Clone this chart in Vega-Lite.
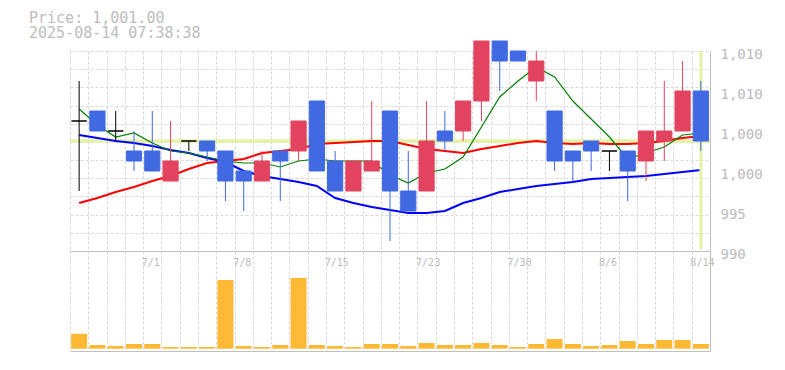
{
  "$schema": "https://vega.github.io/schema/vega-lite/v6.json",
  "autosize": {"type": "pad"},
  "padding": {"left": 29, "top": 10, "right": 21, "bottom": 20},
  "bounds": "flush",
  "spacing": 0,
  "config": {
    "view": {"stroke": null},
    "font": "DejaVu Sans Mono",
    "axis": {
      "gridColor": "#d9d9d9", "gridDash": [3, 2], "gridWidth": 1,
      "domainColor": "#c0c0c0", "domainWidth": 1,
      "labelColor": "#bbbbbb", "labelFont": "DejaVu Sans Mono",
      "ticks": false, "tickSize": 0, "title": null
    }
  },
  "title": {
    "text": ["Price: 1,001.00", "2025-08-14 07:38:38"],
    "anchor": "start", "frame": "group",
    "font": "DejaVu Sans Mono", "fontSize": 15, "fontWeight": "normal",
    "color": "#bdbdbd", "lineHeight": 15, "dx": -41, "offset": 0
  },
  "datasets": {
    "px": [
      {"date":"6/25","open":1003,"high":1007,"low":996,"close":1003,"dir":"flat","ma5":1004.2,"ma25":994.8,"ma75":1001.6,"volume":1500},
      {"date":"6/26","open":1004,"high":1004,"low":1002,"close":1002,"dir":"down","ma5":1002.6,"ma25":995.3,"ma75":1001.3,"volume":370},
      {"date":"6/27","open":1002,"high":1004,"low":1001,"close":1002,"dir":"flat","ma5":1001.4,"ma25":995.9,"ma75":1001.0,"volume":270},
      {"date":"6/30","open":1000,"high":1002,"low":998,"close":999,"dir":"down","ma5":1001.8,"ma25":996.4,"ma75":1000.8,"volume":470},
      {"date":"7/1","open":1000,"high":1004,"low":998,"close":998,"dir":"down","ma5":1000.8,"ma25":997.0,"ma75":1000.5,"volume":470},
      {"date":"7/2","open":997,"high":1003,"low":997,"close":999,"dir":"up","ma5":1000.0,"ma25":997.5,"ma75":1000.1,"volume":170},
      {"date":"7/3","open":1001,"high":1001,"low":1000,"close":1001,"dir":"flat","ma5":999.8,"ma25":998.2,"ma75":999.8,"volume":170},
      {"date":"7/4","open":1001,"high":1001,"low":999,"close":1000,"dir":"down","ma5":999.4,"ma25":998.8,"ma75":999.3,"volume":170},
      {"date":"7/7","open":1000,"high":1000,"low":995,"close":997,"dir":"down","ma5":999.0,"ma25":999.0,"ma75":998.9,"volume":6870},
      {"date":"7/8","open":998,"high":998,"low":994,"close":997,"dir":"down","ma5":998.8,"ma25":999.2,"ma75":998.0,"volume":270},
      {"date":"7/9","open":997,"high":1000,"low":997,"close":999,"dir":"up","ma5":998.8,"ma25":999.8,"ma75":997.5,"volume":170},
      {"date":"7/10","open":1000,"high":1000,"low":995,"close":999,"dir":"down","ma5":998.4,"ma25":1000.0,"ma75":997.2,"volume":370},
      {"date":"7/11","open":1000,"high":1003,"low":999,"close":1003,"dir":"up","ma5":999.0,"ma25":1000.2,"ma75":996.9,"volume":7070},
      {"date":"7/14","open":1005,"high":1005,"low":998,"close":998,"dir":"down","ma5":999.2,"ma25":1000.7,"ma75":996.5,"volume":370},
      {"date":"7/15","open":999,"high":1000,"low":996,"close":996,"dir":"down","ma5":999.0,"ma25":1000.8,"ma75":995.3,"volume":270},
      {"date":"7/16","open":996,"high":999,"low":996,"close":999,"dir":"up","ma5":999.0,"ma25":1000.9,"ma75":994.8,"volume":170},
      {"date":"7/17","open":998,"high":1005,"low":998,"close":999,"dir":"up","ma5":999.0,"ma25":1001.0,"ma75":994.4,"volume":470},
      {"date":"7/18","open":1004,"high":1004,"low":991,"close":996,"dir":"down","ma5":997.6,"ma25":1001.0,"ma75":994.1,"volume":470},
      {"date":"7/22","open":996,"high":1000,"low":994,"close":994,"dir":"down","ma5":996.8,"ma25":1000.6,"ma75":993.8,"volume":270},
      {"date":"7/23","open":996,"high":1005,"low":996,"close":1001,"dir":"up","ma5":997.8,"ma25":1000.2,"ma75":993.8,"volume":570},
      {"date":"7/24","open":1002,"high":1004,"low":1000,"close":1001,"dir":"down","ma5":998.2,"ma25":1000.0,"ma75":994.0,"volume":370},
      {"date":"7/25","open":1002,"high":1005,"low":1001,"close":1005,"dir":"up","ma5":999.4,"ma25":999.8,"ma75":994.8,"volume":370},
      {"date":"7/28","open":1005,"high":1011,"low":1003,"close":1011,"dir":"up","ma5":1002.4,"ma25":1000.2,"ma75":995.3,"volume":570},
      {"date":"7/29","open":1011,"high":1011,"low":1006,"close":1009,"dir":"down","ma5":1005.4,"ma25":1000.5,"ma75":995.9,"volume":370},
      {"date":"7/30","open":1010,"high":1010,"low":1009,"close":1009,"dir":"down","ma5":1007.0,"ma25":1000.8,"ma75":996.2,"volume":170},
      {"date":"7/31","open":1007,"high":1010,"low":1005,"close":1009,"dir":"up","ma5":1008.4,"ma25":1001.0,"ma75":996.5,"volume":470},
      {"date":"8/1","open":1004,"high":1004,"low":998,"close":999,"dir":"down","ma5":1007.4,"ma25":1000.8,"ma75":996.7,"volume":970},
      {"date":"8/4","open":1000,"high":1000,"low":997,"close":999,"dir":"down","ma5":1005.0,"ma25":1000.7,"ma75":996.9,"volume":470},
      {"date":"8/5","open":1001,"high":1001,"low":998,"close":1000,"dir":"down","ma5":1003.2,"ma25":1000.8,"ma75":997.2,"volume":270},
      {"date":"8/6","open":1000,"high":1000,"low":998,"close":1000,"dir":"flat","ma5":1001.4,"ma25":1000.7,"ma75":997.3,"volume":370},
      {"date":"8/7","open":1000,"high":1000,"low":995,"close":998,"dir":"down","ma5":999.2,"ma25":1000.7,"ma75":997.4,"volume":770},
      {"date":"8/8","open":999,"high":1002,"low":997,"close":1002,"dir":"up","ma5":999.8,"ma25":1000.8,"ma75":997.5,"volume":470},
      {"date":"8/12","open":1001,"high":1007,"low":999,"close":1002,"dir":"up","ma5":1000.4,"ma25":1001.0,"ma75":997.7,"volume":870},
      {"date":"8/13","open":1002,"high":1009,"low":1002,"close":1006,"dir":"up","ma5":1001.6,"ma25":1001.3,"ma75":997.9,"volume":870},
      {"date":"8/14","open":1006,"high":1007,"low":1000,"close":1001,"dir":"down","ma5":1001.8,"ma25":1001.5,"ma75":998.1,"volume":470}
    ]
  },
  "vconcat": [
    {
      "width": 640,
      "height": 200,
      "resolve": {"axis": {"y": "independent"}},
      "layer": [
        {
          "data": {"values": [{"price": 1001}]},
          "mark": {"type": "rule", "color": "#e4f2a6", "strokeWidth": 3.5},
          "encoding": {
            "y": {
              "field": "price", "type": "quantitative",
              "scale": {"domain": [990, 1010], "zero": false, "nice": false},
              "axis": {"orient": "left", "labels": false, "domain": false, "grid": true, "ticks": false,
                "values": [991.818, 993.636, 995.455, 997.273, 999.091, 1000.909, 1002.727, 1004.545, 1006.364, 1008.182, 1010]}
            }
          }
        },
        {
          "data": {"name": "px"},
          "mark": {"type": "line", "color": "#0000ff", "strokeWidth": 2},
          "encoding": {
            "x": {
              "field": "date", "type": "ordinal", "sort": null,
              "scale": {"domain": ["6/25","6/26","6/27","6/30","7/1","7/2","7/3","7/4","7/7","7/8","7/9","7/10","7/11","7/14","7/15","7/16","7/17","7/18","7/22","7/23","7/24","7/25","7/28","7/29","7/30","7/31","8/1","8/4","8/5","8/6","8/7","8/8","8/12","8/13","8/14"], "paddingInner": 0, "paddingOuter": 0},
              "axis": {"orient": "bottom", "labels": false, "ticks": false, "grid": true, "tickBand": "extent", "domain": true}
            },
            "y": {"field": "ma75", "type": "quantitative", "axis": null}
          }
        },
        {
          "data": {"values": [{"date": "8/14", "top": 1010, "bottom": 990.2}]},
          "mark": {"type": "rule", "color": "#e4f2a6", "strokeWidth": 3},
          "encoding": {
            "x": {"field": "date", "type": "ordinal"},
            "y": {"field": "top", "type": "quantitative", "axis": null},
            "y2": {"field": "bottom"}
          }
        },
        {
          "data": {"name": "px"},
          "mark": {"type": "line", "color": "#ff0000", "strokeWidth": 2},
          "encoding": {
            "x": {"field": "date", "type": "ordinal"},
            "y": {"field": "ma25", "type": "quantitative", "axis": null}
          }
        },
        {
          "data": {"name": "px"},
          "mark": {"type": "line", "color": "#008000", "strokeWidth": 1.2},
          "encoding": {
            "x": {"field": "date", "type": "ordinal"},
            "y": {"field": "ma5", "type": "quantitative", "axis": null}
          }
        },
        {
          "data": {"name": "px"},
          "mark": {"type": "rule", "strokeWidth": 1},
          "encoding": {
            "x": {"field": "date", "type": "ordinal"},
            "y": {"field": "low", "type": "quantitative", "axis": null},
            "y2": {"field": "high"},
            "color": {"field": "dir", "type": "nominal", "scale": {"domain": ["up", "down", "flat"], "range": ["#e2445f", "#4169e1", "#000000"]}, "legend": null}
          }
        },
        {
          "data": {"name": "px"},
          "mark": {"type": "bar", "width": {"band": 0.83}, "strokeWidth": 1},
          "encoding": {
            "x": {"field": "date", "type": "ordinal"},
            "y": {
              "field": "open", "type": "quantitative",
              "axis": {"orient": "right", "values": [990, 994, 998, 1002, 1006, 1010],
                "labelExpr": "datum.value >= 1005 ? '1,010' : datum.value >= 997 ? '1,000' : datum.value >= 993 ? '995' : '990'",
                "grid": false, "domain": true, "ticks": false, "labelOffset": 3, "labelPadding": 10,
                "labelFontSize": 14, "labelFlush": false, "labelOverlap": false, "labelBaseline": "middle"}
            },
            "y2": {"field": "close"},
            "color": {"field": "dir", "type": "nominal", "scale": {"domain": ["up", "down", "flat"], "range": ["#e2445f", "#4169e1", "#000000"]}, "legend": null},
            "stroke": {"field": "dir", "type": "nominal", "scale": {"domain": ["up", "down", "flat"], "range": ["#e2445f", "#4169e1", "#000000"]}, "legend": null}
          }
        }
      ]
    },
    {
      "width": 640,
      "height": 100,
      "data": {"name": "px"},
      "mark": {"type": "bar", "color": "#fdb933", "width": {"band": 0.875}},
      "encoding": {
        "x": {
          "field": "date", "type": "ordinal", "sort": null,
          "scale": {"domain": ["6/25","6/26","6/27","6/30","7/1","7/2","7/3","7/4","7/7","7/8","7/9","7/10","7/11","7/14","7/15","7/16","7/17","7/18","7/22","7/23","7/24","7/25","7/28","7/29","7/30","7/31","8/1","8/4","8/5","8/6","8/7","8/8","8/12","8/13","8/14"], "paddingInner": 0, "paddingOuter": 0},
          "axis": {"orient": "bottom", "grid": true, "tickBand": "extent", "domain": true, "ticks": false,
            "labelExpr": "indexof(['7/1','7/8','7/15','7/23','7/30','8/6','8/14'], datum.value) >= 0 ? datum.value : ''",
            "labelAlign": "left", "labelOffset": -11, "labelPadding": -94, "labelBaseline": "top",
            "labelFontSize": 10, "labelAngle": 0, "labelOverlap": false, "labelBound": false, "labelFlush": false}
        },
        "y": {
          "field": "volume", "type": "quantitative",
          "scale": {"domain": [-230, 9770], "nice": false, "zero": false},
          "axis": {"orient": "right", "labels": false, "grid": false, "domain": true, "ticks": false}
        }
      }
    }
  ]
}
